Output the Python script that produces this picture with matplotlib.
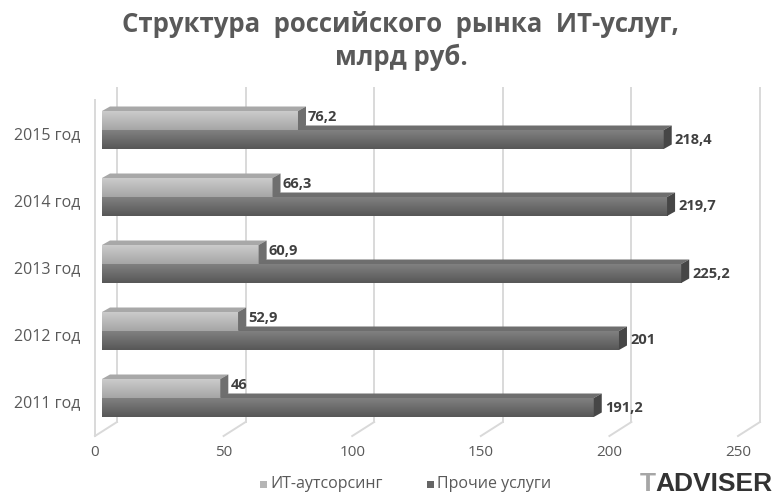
import numpy as np
import matplotlib.pyplot as plt
from matplotlib.patches import Polygon, Rectangle
from matplotlib.colors import LinearSegmentedColormap

# Data
years = ['2011 год', '2012 год', '2013 год', '2014 год', '2015 год']
outsourcing = [46, 52.9, 60.9, 66.3, 76.2]
other_services = [191.2, 201, 225.2, 219.7, 218.4]
series_names = ['ИТ-аутсорсинг', 'Прочие услуги']
x_ticks = [0, 50, 100, 150, 200, 250]
title = 'Структура  российского  рынка  ИТ-услуг,\nмлрд руб.'

plt.rcParams['font.family'] = ['Open Sans', 'DejaVu Sans']

W, H = 783, 497
fig = plt.figure(figsize=(W / 100, H / 100), dpi=100)
ax = fig.add_axes([0, 0, 1, 1])
ax.axis('off')

PX_PER_UNIT = 2.572      # horizontal scale
PX_PER_CAT = 67.0        # vertical distance between categories
X0_PX, Y0_PX = 102, 398  # pixel of value 0 / first category baseline
XLIM = (-X0_PX / PX_PER_UNIT, (W - X0_PX) / PX_PER_UNIT)
YLIM = (-(H - Y0_PX) / PX_PER_CAT, Y0_PX / PX_PER_CAT)


def px_x(p):
    return p * (XLIM[1] - XLIM[0]) / W


def px_y(p):
    return p * (YLIM[1] - YLIM[0]) / H


def fmt(v):
    s = f'{v:g}'
    return s.replace('.', ',')


text_col = '#595959'
grid_col = '#d9d9d9'

# 3D frame: back-wall gridlines, floor edges and the left wall edge
back_dx, front_dx = px_x(15), -px_x(7)
back_floor, front_floor = -px_y(24), -px_y(38)
wall_top = px_y(310)
for v in x_ticks:
    ax.plot([v + back_dx, v + back_dx], [back_floor, wall_top], color=grid_col, lw=1.4, zorder=1)
    ax.plot([v + front_dx, v + back_dx], [front_floor, back_floor], color=grid_col, lw=1.4, zorder=1)
    ax.text(v + front_dx, front_floor - px_y(17), str(v), ha='center', va='center',
            fontsize=11, color=text_col)
ax.plot([front_dx, front_dx], [front_floor, px_y(298)], color=grid_col, lw=1.4, zorder=1)

# Bars
bar_h = px_y(19)
ddx, ddy = px_x(8), px_y(4.5)

light = dict(top=('#cbcbcb', '#a6a6a6'), roof='#a8a8a8', side='#6f6f6f')
dark = dict(top=('#818181', '#575757'), roof='#6e6e6e', side='#464646')


def bar3d(y0, v, sty, z):
    grad = np.linspace(0, 1, 64).reshape(-1, 1)
    cmap = LinearSegmentedColormap.from_list('g', [sty['top'][0], sty['top'][1]])
    rect = Rectangle((0, y0), v, bar_h, facecolor='none', edgecolor='none', zorder=z)
    ax.add_patch(rect)
    im = ax.imshow(grad, extent=[0, v, y0, y0 + bar_h], origin='upper', aspect='auto',
                   cmap=cmap, zorder=z, interpolation='bicubic')
    im.set_clip_path(rect)
    yt = y0 + bar_h
    ax.add_patch(Polygon([(0, yt), (v, yt), (v + ddx, yt + ddy), (ddx, yt + ddy)],
                         closed=True, facecolor=sty['roof'], edgecolor='none', zorder=z))
    ax.add_patch(Polygon([(v, y0), (v + ddx, y0 + ddy), (v + ddx, yt + ddy), (v, yt)],
                         closed=True, facecolor=sty['side'], edgecolor='none', zorder=z))


for i, (a, b) in enumerate(zip(outsourcing, other_services)):
    z = 10 + (len(years) - i) * 2
    bar3d(i - bar_h, b, dark, z)
    bar3d(i, a, light, z + 1)
    ax.text(a + px_x(10), i + bar_h / 2 + px_y(3.5), fmt(a), ha='left', va='center',
            fontsize=10.5, fontweight='bold', color='#404040', zorder=30)
    ax.text(b + px_x(11), i - bar_h / 2, fmt(b), ha='left', va='center',
            fontsize=10.5, fontweight='bold', color='#404040', zorder=30)
    ax.text(-px_x(22), i + px_y(-5), years[i], ha='right', va='center',
            fontsize=11.5, color=text_col)

ax.set_xlim(*XLIM)
ax.set_ylim(*YLIM)

# Title
fig.text(0.512, 1 - 41 / H, title, ha='center', va='center', fontsize=18.5,
         fontweight='bold', color=text_col, linespacing=1.25)

# Legend
leg_y = 1 - 484 / H
for x_px, name, col in [(263, series_names[0], '#b5b5b5'), (430, series_names[1], '#656565')]:
    fig.patches.append(Rectangle((x_px / W - 3.5 / W, leg_y - 3.5 / H), 7 / W, 7 / H,
                                 transform=fig.transFigure, facecolor=col, edgecolor='none'))
    fig.text((x_px + 7) / W, leg_y, name, ha='left', va='center', fontsize=11.5, color=text_col)

# Logo
fig.canvas.draw()
t_logo = fig.text(640 / W, leg_y, 'T', ha='left', va='center', fontsize=19, fontweight='bold',
                  color='#a6a6a6', family='Liberation Sans')
bb = t_logo.get_window_extent(renderer=fig.canvas.get_renderer())
fig.text(bb.x1 / W - 0.5 / W, leg_y, 'ADVISER', ha='left', va='center', fontsize=19,
         fontweight='bold', color='#333333', family='Liberation Sans')

fig.savefig('out.png', dpi=100, facecolor='white')
